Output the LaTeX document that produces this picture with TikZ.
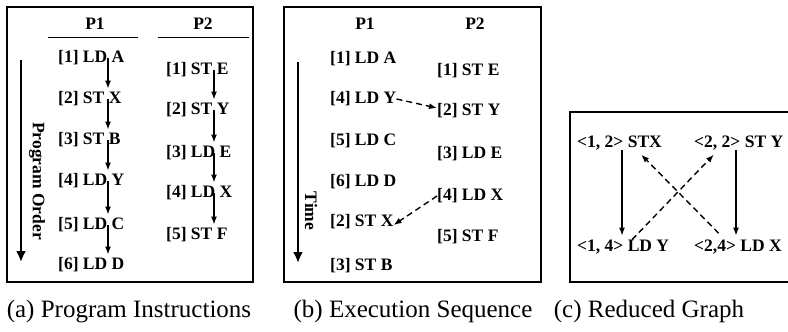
\documentclass[tikz,border=0pt]{standalone}
\usepackage{fontspec}
\setmainfont{Liberation Serif}
\usetikzlibrary{arrows.meta,calc}
\begin{document}
\begin{tikzpicture}[x=1pt,y=-1pt,
  lbl/.style={anchor=west,inner sep=0pt,font=\fontsize{17.5}{20}\selectfont\bfseries},
  hdr/.style={inner sep=0pt,font=\fontsize{17.5}{20}\selectfont\bfseries},
  captext/.style={anchor=base,inner sep=0pt,font=\fontsize{25}{28}\selectfont},
  frame/.style={line width=1.8pt},
  arr/.style={line width=1.4pt,-{Latex[length=8pt,width=6pt]}},
  darr/.style={line width=1.4pt,dash pattern=on 6pt off 4pt,-{Latex[length=8pt,width=6pt]}},
  bigarr/.style={line width=2.4pt,-{Latex[length=11pt,width=10pt]}}]
\useasboundingbox (0,0) rectangle (788,332);
% ---------- panel (a)
\draw[frame] (7,7) rectangle (253,282);
\node[hdr] (ha1) at (95,24) {P1};
\node[hdr] (ha2) at (203,24) {P2};
\draw[line width=1.6pt] (48,37.5) -- (138,37.5);
\draw[line width=1.6pt] (158,37.5) -- (249,37.5);
\node[lbl] (a1) at (58,58) {[1] LD A};
\node[lbl] (a2) at (58,99) {[2] ST X};
\node[lbl] (a3) at (58,140) {[3] ST B};
\node[lbl] (a4) at (58,181) {[4] LD Y};
\node[lbl] (a5) at (58,225) {[5] LD C};
\node[lbl] (a6) at (58,265) {[6] LD D};
\node[lbl] (b1) at (166,70) {[1] ST E};
\node[lbl] (b2) at (166,110) {[2] ST Y};
\node[lbl] (b3) at (166,153) {[3] LD E};
\node[lbl] (b4) at (166,193) {[4] LD X};
\node[lbl] (b5) at (166,235) {[5] ST F};
\coordinate (xa) at (108,0);
\coordinate (xb) at (214,0);
\foreach \i/\j in {1/2,2/3,3/4,4/5,5/6}
  \draw[arr,shorten >=3pt] (a\i.center -| xa) -- (a\j.north -| xa);
\foreach \i/\j in {1/2,2/3,3/4,4/5}
  \draw[arr,shorten >=3pt] (b\i.center -| xb) -- (b\j.north -| xb);
\coordinate (poS) at (21,60);
\coordinate (poE) at (21,262);
\draw[bigarr] (poS) -- (poE);
\node[hdr,rotate=-90] (po) at (37,181) {Program Order};
% ---------- panel (b)
\draw[frame] (284,7) rectangle (541,282);
\node[hdr] (hb1) at (365,24) {P1};
\node[hdr] (hb2) at (475,24) {P2};
\node[lbl] (p1) at (330,59) {[1] LD A};
\node[lbl] (p2) at (330,99) {[4] LD Y};
\node[lbl] (p3) at (330,141) {[5] LD C};
\node[lbl] (p4) at (330,182) {[6] LD D};
\node[lbl] (p5) at (330,222) {[2] ST X};
\node[lbl] (p6) at (330,266) {[3] ST B};
\node[lbl] (q1) at (437,71) {[1] ST E};
\node[lbl] (q2) at (437,111) {[2] ST Y};
\node[lbl] (q3) at (437,154) {[3] LD E};
\node[lbl] (q4) at (437,196) {[4] LD X};
\node[lbl] (q5) at (437,237) {[5] ST F};
\draw[darr] (p2.east) -- ([yshift=3pt]q2.west);
\draw[darr] (q4.west) -- ([yshift=-3pt]p5.east);
\coordinate (tS) at (298,62);
\coordinate (tE) at (298,263);
\draw[bigarr] (tS) -- (tE);
\node[hdr,rotate=-90] (tm) at (311,211) {Time};
% ---------- panel (c)
\draw[frame] (570,112) rectangle (795,282);
\node[lbl] (c1) at (577,143) {<1, 2> STX};
\node[lbl] (c2) at (694,143) {<2, 2> ST Y};
\node[lbl] (c3) at (577,247) {<1, 4> LD Y};
\node[lbl] (c4) at (694,247) {<2,4> LD X};
\coordinate (xc1) at (622,0);
\coordinate (xc2) at (736,0);
\coordinate (xd1) at (632,0);
\coordinate (xd2) at (718,0);
\coordinate (xd3) at (725,0);
\coordinate (xd4) at (637,0);
\draw[arr,shorten >=4pt] (c1.south -| xc1) -- (c3.north -| xc1);
\draw[arr,shorten >=4pt] (c2.south -| xc2) -- (c4.north -| xc2);
\draw[darr,shorten >=6pt] (c3.north -| xd1) -- (c2.south -| xd2);
\draw[darr,shorten <=9pt,shorten >=6pt] (c4.north -| xd3) -- (c1.south -| xd4);
% ---------- captions
\node[captext] (capa) at (129,317) {(a) Program Instructions};
\node[captext] (capb) at (413,317) {(b) Execution Sequence};
\node[captext] (capc) at (649,317) {(c) Reduced Graph};
\end{tikzpicture}
\end{document}
